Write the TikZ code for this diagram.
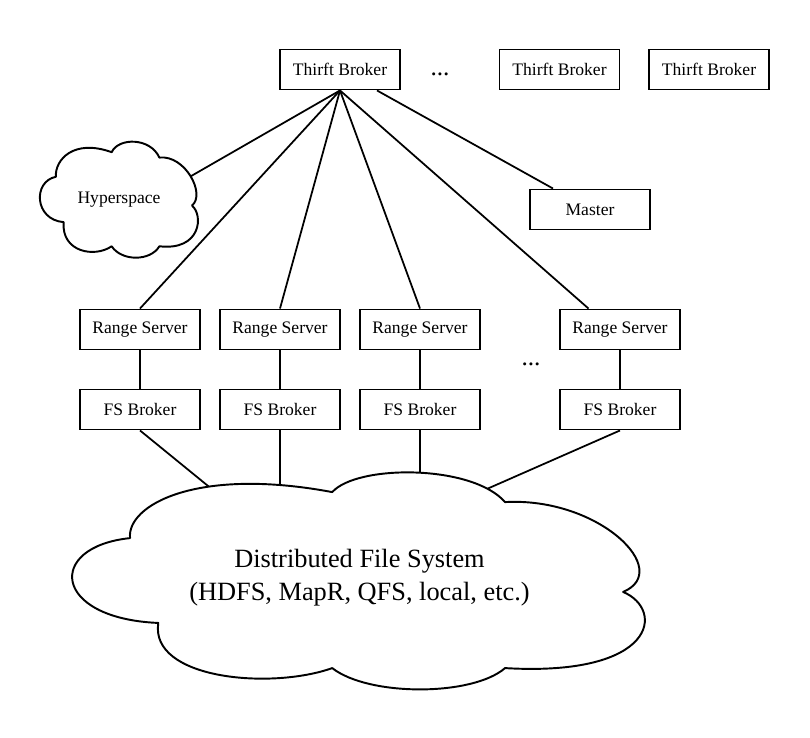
\documentclass[tikz,border=0pt]{standalone}
\usepackage{fontspec}
\setmainfont{Liberation Serif}

\begin{document}
\begin{tikzpicture}[
        box/.style={
            draw,
            line width=1.1pt,
            minimum width=2.4cm,
            minimum height=0.8cm,
            inner sep=0pt,
          },
        link/.style={line width=1pt},
        more/.style={font=\Large, inner sep=0pt},
        cloudshape/.pic={
            \draw[fill=white, line width=1.1pt, line join=round]
                (0.155,0.309) .. controls (-0.03,0.33) and (-0.04,0.66) .. (0.106,0.700)
                .. controls (0.10,0.85) and (0.22,1.03) .. (0.457,0.912)
                .. controls (0.50,1.04) and (0.70,1.04) .. (0.757,0.866)
                .. controls (0.92,0.89) and (1.05,0.55) .. (0.962,0.452)
                .. controls (1.035,0.37) and (1.02,0.06) .. (0.757,0.101)
                .. controls (0.70,-0.03) and (0.52,-0.03) .. (0.457,0.101)
                .. controls (0.35,0.0) and (0.14,0.05) .. (0.155,0.309) -- cycle;
          }
        ]
        \useasboundingbox (0,0) rectangle (16.2,14.74);
        \node[box](tb1) at (6.8, 13.35) {Thirft Broker};
        \node[more](dots1) at (8.8, 13.25) {...};
        \node[box](tb2) at (11.19, 13.35) {Thirft Broker};
        \node[box](tb3) at (14.18, 13.35) {Thirft Broker};
        \node[box](master) at (11.8, 10.55) {Master};
        \node[box](rs1) at (2.8, 8.15) {Range Server};
        \node[box](rs2) at (5.6, 8.15) {Range Server};
        \node[box](rs3) at (8.4, 8.15) {Range Server};
        \node[box](rs4) at (12.4, 8.15) {Range Server};
        \node[more](dots2) at (10.62, 7.46) {...};
        \node[box](fs1) at (2.8, 6.55) {FS Broker};
        \node[box](fs2) at (5.6, 6.55) {FS Broker};
        \node[box](fs3) at (8.4, 6.55) {FS Broker};
        \node[box](fs4) at (12.4, 6.55) {FS Broker};
        \coordinate(hsin) at (3.72, 11.16);
        \coordinate(dfsin1) at (4.26, 4.94);
        \coordinate(dfsin2) at (5.6, 4.94);
        \coordinate(dfsin3) at (8.4, 5.12);
        \coordinate(dfsin4) at (9.6, 4.9);
        \draw[link] (tb1.south) -- (hsin);
        \draw[link] (tb1.south) -- (rs1.north);
        \draw[link] (tb1.south) -- (rs2.north);
        \draw[link] (tb1.south) -- (rs3.north);
        \draw[link] (tb1.south) -- ([xshift=-0.63cm]rs4.north);
        \draw[link] ([xshift=0.74cm]tb1.south) -- ([xshift=-0.74cm]master.north);
        \draw[link] (rs1) -- (fs1);
        \draw[link] (rs2) -- (fs2);
        \draw[link] (rs3) -- (fs3);
        \draw[link] (rs4) -- (fs4);
        \draw[link] (fs1.south) -- (dfsin1);
        \draw[link] (fs2.south) -- (dfsin2);
        \draw[link] (fs3.south) -- (dfsin3);
        \draw[link] (fs4.south) -- (dfsin4);
        \pic[xscale=3.18, yscale=2.32] at (0.78, 9.58) {cloudshape};
        \node(hs) at (2.38, 10.74) {Hyperspace};
        \pic[xscale=11.52, yscale=4.34] at (1.38, 0.94) {cloudshape};
        \node[align=center, font=\fontsize{15}{18.7}\selectfont](dfs) at (7.19, 3.18) {Distributed File System\\(HDFS, MapR, QFS, local, etc.)};
\end{tikzpicture}
\end{document}
